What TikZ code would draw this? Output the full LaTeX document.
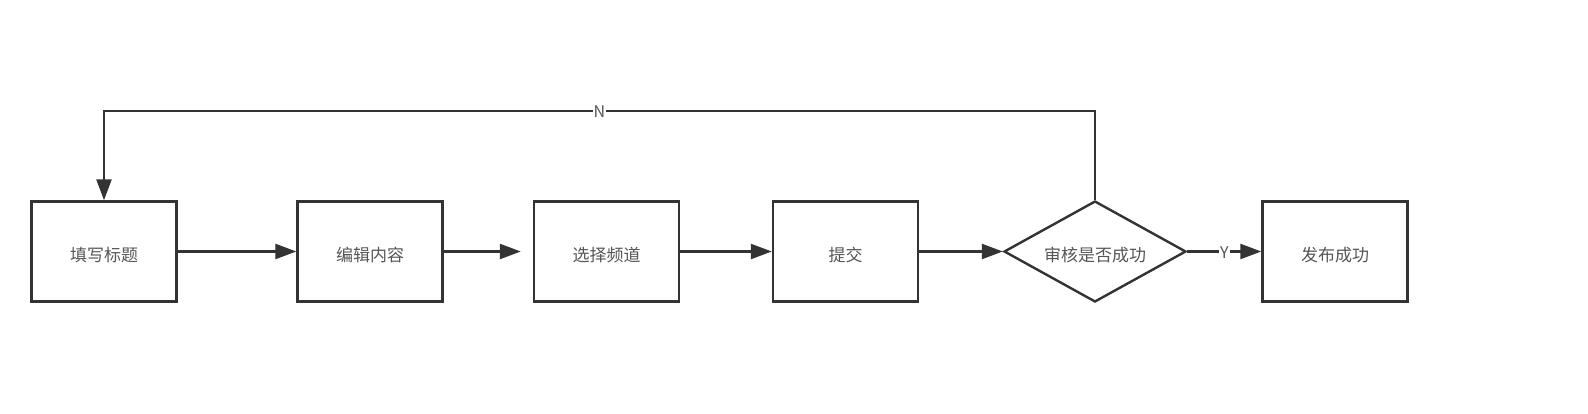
\documentclass[tikz,border=0pt]{standalone}
\usepackage{fontspec}
\setmainfont{Noto Sans CJK SC}
\usetikzlibrary{arrows.meta,shapes.geometric}
\definecolor{linegray}{HTML}{333333}
\definecolor{textgray}{HTML}{555555}

\begin{document}
\begin{tikzpicture}[x=1pt,y=-1pt,>={Triangle[length=21pt,width=15pt]},
 stepbox/.style={draw=linegray,line width=2.4pt,minimum width=145pt,minimum height=100pt,
  inner sep=0pt,text height=20pt,text depth=0pt,text=textgray,font=\fontsize{17}{20}\selectfont},
 check/.style={diamond,draw=linegray,line width=2.4pt,minimum width=182pt,minimum height=101pt,
  aspect=1.8,inner sep=0pt,text height=20pt,text depth=0pt,text=textgray,font=\fontsize{17}{20}\selectfont},
 flow/.style={draw=linegray,line width=2.4pt,->},
 lbl/.style={fill=white,inner sep=1pt,text height=14pt,text depth=0pt,text=textgray,font=\fontsize{16}{18}\selectfont}]
\useasboundingbox (0,0) rectangle (1588,414);
\node[stepbox] (title) at (104,251.5) {填写标题};
\node[stepbox] (edit) at (370,251.5) {编辑内容};
\node[stepbox] (channel) at (606.5,251.5) {选择频道};
\node[stepbox] (submit) at (845.5,251.5) {提交};
\node[check] (review) at (1095,251.5) {审核是否成功};
\node[stepbox] (publish) at (1335,251.5) {发布成功};
\coordinate (topright) at (1095,111);
\coordinate (topleft) at (104,111);
\draw[flow] (title) -- (edit);
\draw[flow,shorten >=12pt] (edit) -- (channel);
\draw[flow] (channel) -- (submit);
\draw[flow] (submit) -- (review);
\draw[flow] (review) -- node[lbl,pos=0.5] (yes) {Y} (publish);
\draw[flow] (review.north) -- (topright) -- node[lbl,pos=0.5] (no) {N} (topleft) -- (title.north);
\end{tikzpicture}
\end{document}
